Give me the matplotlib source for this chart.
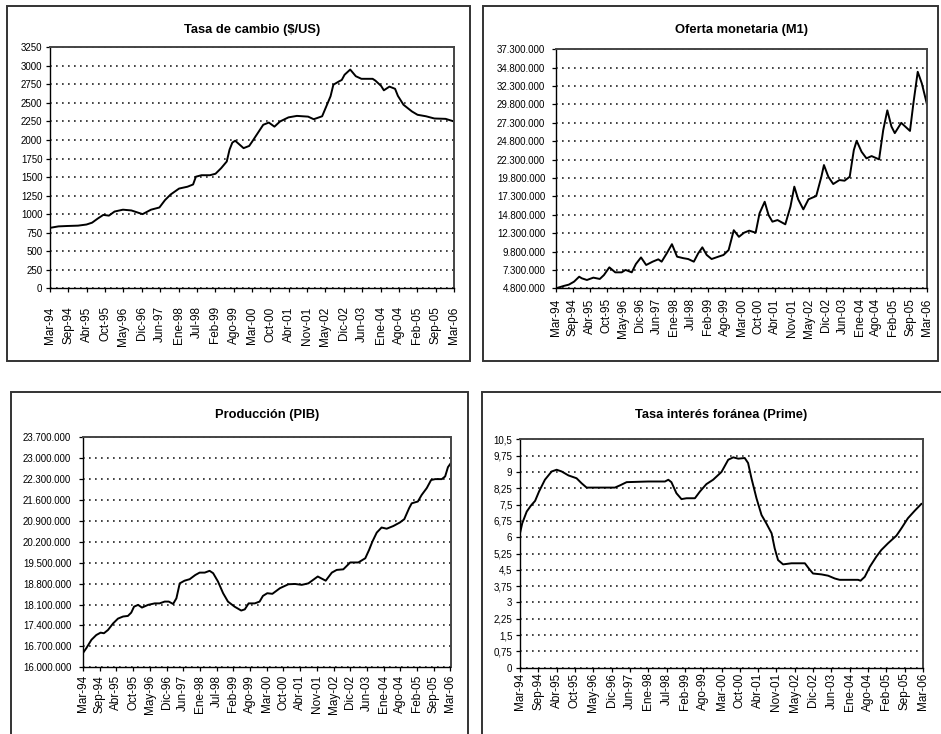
import numpy as np
import matplotlib
matplotlib.use('Agg')
import matplotlib.pyplot as plt
from matplotlib.patches import Rectangle

plt.rcParams['font.family'] = ['Liberation Sans', 'DejaVu Sans']

# Etiquetas del eje X (meses desde Mar-94 hasta Mar-06)
etiquetas_x = ['Mar-94', 'Sep-94', 'Abr-95', 'Oct-95', 'May-96', 'Dic-96', 'Jun-97',
               'Ene-98', 'Jul-98', 'Feb-99', 'Ago-99', 'Mar-00', 'Oct-00', 'Abr-01',
               'Nov-01', 'May-02', 'Dic-02', 'Jun-03', 'Ene-04', 'Ago-04', 'Feb-05',
               'Sep-05', 'Mar-06']
total_meses = 144

# Tasa de cambio ($/US)
mes_tc = [0, 3, 6, 10, 13, 15, 17, 19, 21, 23, 26, 29, 33, 36, 39, 41, 43, 46, 49, 51,
          52, 54, 57, 59, 61, 63, 64, 65, 66, 69, 71, 72, 74, 76, 78, 80, 82, 85, 88, 92,
          94, 97, 98, 100, 101, 103, 104, 105, 107, 109, 111, 115, 116, 118, 119, 121,
          123, 124, 126, 129, 131, 134, 137, 141, 144]
tasa_cambio = [815, 835, 840, 845, 860, 885, 940, 990, 980, 1035, 1060, 1050, 1000, 1060,
               1090, 1190, 1265, 1345, 1370, 1400, 1505, 1525, 1525, 1545, 1620, 1710,
               1870, 1965, 1990, 1890, 1920, 1975, 2090, 2205, 2235, 2180, 2250, 2305,
               2325, 2315, 2280, 2320, 2410, 2590, 2745, 2790, 2810, 2880, 2950, 2860,
               2825, 2825, 2800, 2730, 2670, 2720, 2690, 2595, 2475, 2385, 2340, 2320,
               2290, 2285, 2250]

# Oferta monetaria M1 (millones)
mes_m1 = [0, 3, 5, 7, 9, 10, 12, 14.5, 17, 18.6, 20.7, 23, 25.5, 27, 29.4, 31, 33, 35,
          37.5, 39.7, 41, 43, 45, 47, 49.4, 51.3, 53.5, 55.2, 56.8, 58.5, 60.4, 63, 65,
          67, 69, 71, 73, 75, 77.5, 79, 81, 82.5, 84, 86, 89, 91, 92.5, 94, 96, 98, 101,
          103, 104, 105.7, 107.6, 110, 112, 114, 115.6, 116.7, 118.6, 120.5, 122.5,
          125.4, 127, 128.6, 130.2, 131.5, 134, 137.4, 138.7, 140.4, 142, 144]
oferta_m1 = [4.8, 5.12, 5.3, 5.7, 6.38, 6.16, 5.93, 6.25, 6.07, 6.6, 7.65, 6.97, 6.97,
             7.3, 6.97, 8.1, 9.0, 7.97, 8.42, 8.74, 8.42, 9.56, 10.8, 9.1, 8.9, 8.78,
             8.42, 9.56, 10.37, 9.33, 8.78, 9.1, 9.33, 10.0, 12.7, 11.8, 12.36, 12.64,
             12.36, 15.0, 16.57, 14.76, 13.86, 14.08, 13.5, 15.9, 18.62, 16.9, 15.53,
             16.9, 17.35, 19.97, 21.56, 19.97, 18.98, 19.52, 19.43, 19.97, 23.6, 24.86,
             23.37, 22.47, 22.78, 22.33, 26.3, 29.0, 26.8, 25.9, 27.3, 26.2, 29.9, 34.24,
             32.65, 29.8]

# Produccion PIB (millones)
mes_pib = [0, 1.3, 3.3, 5.2, 6.9, 8.2, 9.8, 11.8, 13.7, 15.7, 17.6, 18.9, 20, 21.6, 23.1,
           25.5, 28.1, 30, 32, 33.6, 35.3, 36.6, 37.9, 39.8, 41.8, 44, 45.7, 47.7, 49.6,
           51, 52.9, 54.9, 56.8, 59.4, 62, 63.4, 64.9, 67.3, 69.2, 70.5, 72.2, 74.2,
           77.2, 80.5, 83.1, 85.7, 88.3, 92, 93.3, 95.1, 97.5, 99.4, 102, 104.7, 107.9,
           110.6, 112.1, 113.4, 115.1, 117, 119, 121.6, 124.2, 125.9, 127.8, 128.8,
           131.2, 132.7, 134.7, 136.4, 138, 140.6, 141.9, 143, 144]
pib = [16.48, 16.64, 16.92, 17.08, 17.16, 17.14, 17.25, 17.47, 17.63, 17.70, 17.72,
       17.83, 18.03, 18.09, 18.0, 18.09, 18.14, 18.14, 18.2, 18.2, 18.12, 18.31, 18.81,
       18.9, 18.95, 19.09, 19.17, 19.17, 19.23, 19.15, 18.87, 18.48, 18.2, 18.03, 17.9,
       17.94, 18.14, 18.14, 18.2, 18.39, 18.48, 18.46, 18.65, 18.78, 18.79, 18.76, 18.81,
       19.04, 18.98, 18.9, 19.17, 19.26, 19.28, 19.51, 19.51, 19.65, 19.93, 20.21, 20.51,
       20.68, 20.64, 20.73, 20.85, 20.96, 21.33, 21.49, 21.55, 21.77, 22.0, 22.27, 22.3,
       22.3, 22.39, 22.7, 22.82]

# Tasa de interes foranea (Prime)
mes_prime = [0, 0.8, 2.4, 3.9, 5.4, 6.8, 8.9, 11.3, 13.1, 14.9, 17.3, 20.2, 22, 23.8, 28,
             33.9, 35.7, 38.1, 45.8, 51.8, 53, 54.1, 55.9, 57.7, 59.5, 62.5, 64.3, 66.6,
             69, 72, 74.4, 76.2, 78, 80.3, 81.5, 82.7, 84.5, 86.3, 88, 89.9, 91, 92.2, 94,
             97, 101.8, 103.2, 104.7, 107.7, 110.1, 112.5, 114.2, 120.8, 121.7, 123.2,
             125, 127.3, 129.1, 131.5, 134.5, 136.3, 138.6, 141, 143.4, 144]
prime = [6.18, 6.64, 7.18, 7.45, 7.67, 8.1, 8.64, 9.02, 9.1, 9.02, 8.84, 8.71, 8.48, 8.28,
         8.28, 8.28, 8.38, 8.53, 8.56, 8.56, 8.64, 8.53, 8.02, 7.75, 7.79, 7.79, 8.1, 8.44,
         8.64, 9.0, 9.56, 9.67, 9.61, 9.64, 9.41, 8.71, 7.79, 7.02, 6.64, 6.18, 5.49, 4.95,
         4.75, 4.8, 4.8, 4.56, 4.33, 4.29, 4.23, 4.1, 4.04, 4.04, 4.0, 4.18, 4.64, 5.1,
         5.41, 5.72, 6.07, 6.41, 6.87, 7.21, 7.53, 7.55]

W, H = 941, 734


def caja(x0, y0, x1, y1):
    # rectangulo en pixeles -> fracciones de figura
    return [x0 / W, 1 - y1 / H, (x1 - x0) / W, (y1 - y0) / H]


def miles(v):
    return f'{v:,.0f}'.replace(',', '.')


def panel(fig, area, marco, titulo, y_titulo, x, y, yticks, ylabels, pad_x, pad_y):
    x0, y0, x1, y1 = marco
    fig.patches.append(Rectangle((x0 / W, 1 - y1 / H), (x1 - x0) / W, (y1 - y0) / H,
                                 transform=fig.transFigure, fill=False,
                                 edgecolor='#333333', linewidth=1.4))
    fig.text((area[0] + area[2]) / 2 / W, 1 - y_titulo / H, titulo,
             ha='center', va='center', fontsize=9.3, fontweight='bold')

    ax = fig.add_axes(caja(*area))
    ax.plot(x, y, color='black', linewidth=1.4, solid_joinstyle='round')
    ax.set_xlim(0, total_meses)
    ax.set_ylim(yticks[0], yticks[-1])
    ax.set_xticks(np.linspace(0, total_meses, len(etiquetas_x)))
    ax.set_xticklabels(etiquetas_x, rotation=90, fontsize=8.5, va='top')
    ax.set_yticks(yticks)
    ax.set_yticklabels(ylabels, fontsize=7)
    ax.tick_params(axis='x', direction='out', length=3, width=0.9, pad=pad_x)
    ax.tick_params(axis='y', direction='out', length=3, width=0.9, pad=pad_y)
    ax.yaxis.grid(True, linestyle=(0, (1, 2.6)), linewidth=1.2, color='#222222')
    ax.set_axisbelow(True)
    for lado in ['left', 'bottom']:
        ax.spines[lado].set_linewidth(1.0)
        ax.spines[lado].set_color('black')
    for lado in ['top', 'right']:
        ax.spines[lado].set_linewidth(1.4)
        ax.spines[lado].set_color('#444444')
    return ax


fig = plt.figure(figsize=(W / 100, H / 100), dpi=100)

ticks_tc = np.arange(0, 3251, 250)
panel(fig, (50, 47.3, 454, 288.3), (7, 6, 470, 361), 'Tasa de cambio ($/US)', 30,
      mes_tc, tasa_cambio, ticks_tc, [str(v) for v in ticks_tc], 10, 2.5)

ticks_m1 = np.round(np.arange(4.8, 37.31, 2.5), 2)
panel(fig, (556, 49.3, 927, 288.3), (483, 6, 938, 361), 'Oferta monetaria (M1)', 30,
      mes_m1, oferta_m1, ticks_m1, [miles(v * 1e6) for v in ticks_m1], 4.2, 4.7)

ticks_pib = np.round(np.arange(16.0, 23.71, 0.7), 2)
panel(fig, (83, 437.3, 450.5, 667.3), (11, 392, 468, 745), 'Producción (PIB)', 415,
      mes_pib, pib, ticks_pib, [miles(v * 1e6) for v in ticks_pib], 2.5, 5.5)

ticks_prime = np.round(np.arange(0, 10.51, 0.75), 2)
panel(fig, (520, 439.3, 923, 667.7), (482, 392, 945, 745), 'Tasa interés foránea (Prime)',
      415, mes_prime, prime, ticks_prime,
      [f'{v:g}'.replace('.', ',') for v in ticks_prime], 0.5, 2.5)

fig.savefig('out.png', dpi=100, facecolor='white')
